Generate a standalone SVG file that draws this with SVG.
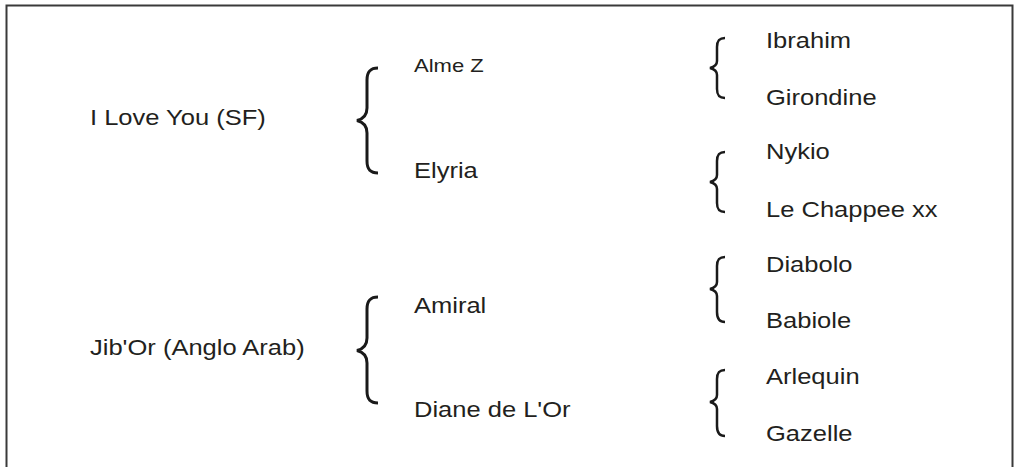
<svg xmlns="http://www.w3.org/2000/svg" width="1021" height="467" viewBox="0 0 1021 467">
<style>
.t{font-family:"Liberation Sans",Arial,sans-serif;font-size:22px;fill:#231f20}
.sm{font-size:19px}
.b{fill:none;stroke:#1a1a1a;stroke-width:3;stroke-linecap:butt}
.s{fill:none;stroke:#1a1a1a;stroke-width:2.5}
</style>
<rect x="0" y="0" width="1021" height="467" fill="#fff"/>
<path d="M6.5,467 V5.5 H1012.5 V467" fill="none" stroke="#3a3a3a" stroke-width="2"/>
<g id="connectors">
<path class="b" d="M378,68 C370,68 367,72 367,80 L367,108 C367,115 363,119 357,120.5 C363,122 367,126 367,133 L367,161 C367,169 370,173 378,173"/>
<path class="b" d="M378,297 C370,297 367,301 367,309 L367,338 C367,345 363,349 357,350.5 C363,352 367,356 367,363 L367,391 C367,399 370,403 378,403"/>
<path class="s" d="M725,38 C719,38 717,41 717,47 L717,61 C717,65 714,67 710,68 C714,69 717,71 717,75 L717,89 C717,95 719,98 725,98"/>
<path class="s" d="M725,152 C719,152 717,155 717,161 L717,175 C717,179 714,181 710,182 C714,183 717,185 717,189 L717,203 C717,209 719,212 725,212"/>
<path class="s" d="M725,257 C719,257 717,260 717,266 L717,282 C717,286 714,288 710,289 C714,290 717,292 717,296 L717,312 C717,318 719,322 725,322"/>
<path class="s" d="M725,370 C719,370 717,373 717,379 L717,395 C717,399 714,401 710,402 C714,403 717,405 717,409 L717,426 C717,432 719,436 725,436"/>
</g>
<g id="n-iloveyou"><text class="t" transform="translate(90,125) scale(1.16,1)">I Love You (SF)</text></g>
<g id="n-jibor"><text class="t" transform="translate(90,355) scale(1.16,1)">Jib'Or (Anglo Arab)</text></g>
<g id="n-almez"><text class="t sm" transform="translate(414,72) scale(1.16,1)">Alme Z</text></g>
<g id="n-elyria"><text class="t" transform="translate(414,178) scale(1.16,1)">Elyria</text></g>
<g id="n-amiral"><text class="t" transform="translate(414,313) scale(1.16,1)">Amiral</text></g>
<g id="n-diane"><text class="t" transform="translate(414,417) scale(1.16,1)">Diane de L'Or</text></g>
<g id="n-ibrahim"><text class="t" transform="translate(766,48) scale(1.16,1)">Ibrahim</text></g>
<g id="n-girondine"><text class="t" transform="translate(766,105) scale(1.16,1)">Girondine</text></g>
<g id="n-nykio"><text class="t" transform="translate(766,159) scale(1.16,1)">Nykio</text></g>
<g id="n-lechappee"><text class="t" transform="translate(766,217) scale(1.16,1)">Le Chappee xx</text></g>
<g id="n-diabolo"><text class="t" transform="translate(766,272) scale(1.16,1)">Diabolo</text></g>
<g id="n-babiole"><text class="t" transform="translate(766,328) scale(1.16,1)">Babiole</text></g>
<g id="n-arlequin"><text class="t" transform="translate(766,384) scale(1.16,1)">Arlequin</text></g>
<g id="n-gazelle"><text class="t" transform="translate(766,441) scale(1.16,1)">Gazelle</text></g>
</svg>
